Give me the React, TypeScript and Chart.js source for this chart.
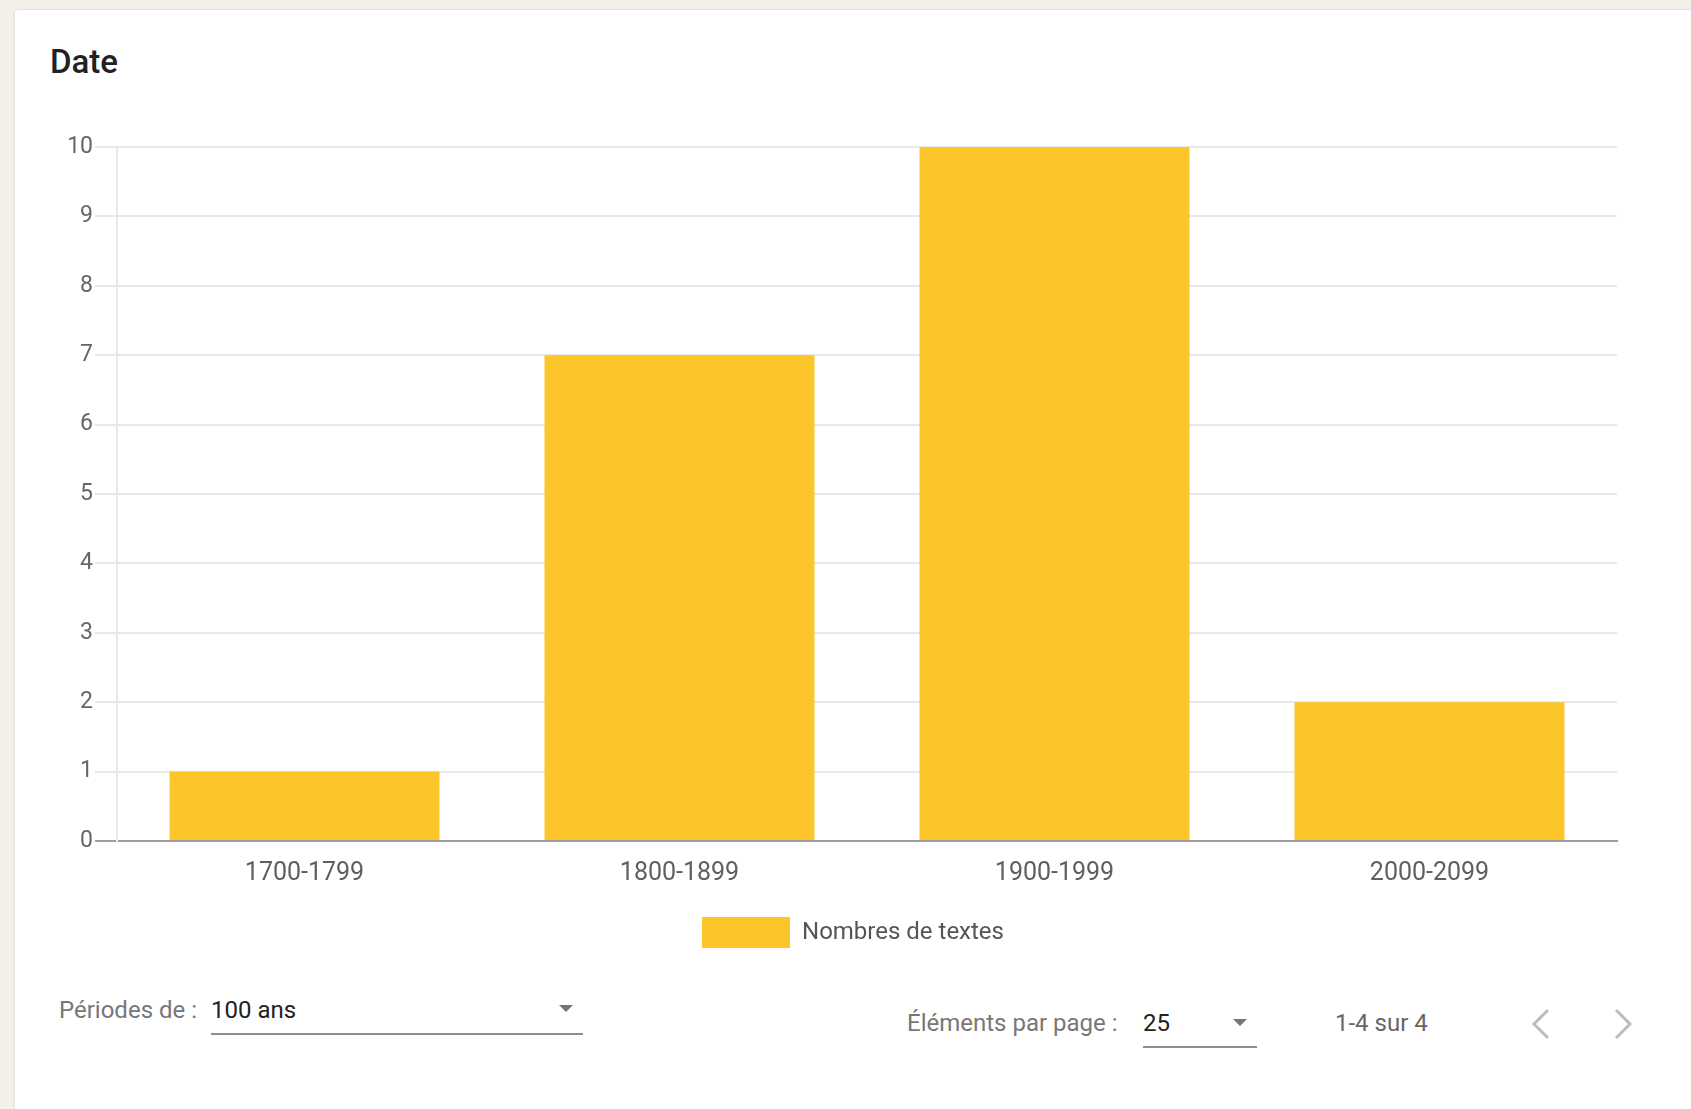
import React, { useEffect, useRef } from "react";
import { Chart, registerables } from "chart.js";

Chart.register(...registerables);

const categories = ["1700-1799", "1800-1899", "1900-1999", "2000-2099"];
const counts = [1, 7, 10, 2];
const seriesLabel = "Nombres de textes";
const yMin = 0;
const yMax = 10;
const yStep = 1;

const FONT = "Roboto, 'Noto Sans', Arial, sans-serif";

export default function App() {
  const canvasRef = useRef<HTMLCanvasElement | null>(null);

  useEffect(() => {
    const canvas = canvasRef.current;
    if (!canvas) return;
    const chart = new Chart(canvas, {
      type: "bar",
      data: {
        labels: categories,
        datasets: [
          {
            label: seriesLabel,
            data: counts,
            backgroundColor: "#fcc62b",
            hoverBackgroundColor: "#fcc62b",
            borderWidth: 0,
            yAxisID: "y",
          },
        ],
      },
      options: {
        animation: false,
        responsive: false,
        devicePixelRatio: 1,
        layout: { padding: { top: 39, left: 0, right: 0, bottom: 0 } },
        plugins: {
          legend: {
            position: "bottom",
            labels: {
              boxWidth: 88,
              boxHeight: 31,
              padding: 10,
              color: "#555555",
              font: { size: 24, family: FONT },
            },
          },
          tooltip: { enabled: false },
          title: { display: false },
        },
        scales: {
          x: {
            grid: { display: false, drawTicks: false },
            border: { display: true, color: "#9e9e9e", width: 2 },
            ticks: {
              padding: 18,
              maxRotation: 0,
              autoSkip: false,
              color: "#5f5f5f",
              font: { size: 25, family: FONT },
            },
          },
          y: {
            position: "left",
            min: yMin,
            max: yMax,
            ticks: {
              stepSize: yStep,
              padding: 2,
              color: "#666666",
              font: { size: 23, family: FONT },
            },
            grid: {
              color: (ctx: any) =>
                ctx.tick && ctx.tick.value === 0 ? "#9e9e9e" : "#e8e8e8",
              lineWidth: 2,
              tickLength: 22,
            },
            border: { display: true, color: "#e8e8e8", width: 2 },
            afterFit: (s: any) => {
              s.width = 102;
            },
          },
          spacer: {
            type: "linear",
            position: "right",
            display: true,
            grid: { display: false, drawTicks: false },
            border: { display: false },
            ticks: { display: false },
            afterFit: (s: any) => {
              s.width = 74;
            },
          },
        },
      } as any,
    });
    return () => chart.destroy();
  }, []);

  const textBase: React.CSSProperties = {
    position: "absolute",
    fontFamily: FONT,
    fontSize: 24,
    lineHeight: "28px",
    whiteSpace: "nowrap",
  };

  return (
    <div
      style={{
        position: "absolute",
        left: 0,
        top: 0,
        width: 1691,
        height: 1109,
        overflow: "hidden",
        background: "#f3f0ea",
      }}
    >
      <div
        style={{
          position: "absolute",
          left: 14,
          top: 9,
          width: 1720,
          height: 1140,
          background: "#ffffff",
          border: "1px solid #e4e4e4",
          borderRadius: 4,
          boxShadow: "0 1px 3px rgba(0,0,0,0.08)",
        }}
      />
      <div
        style={{
          position: "absolute",
          left: 50,
          top: 44,
          fontFamily: FONT,
          fontSize: 33,
          fontWeight: 500,
          lineHeight: "36px",
          color: "#202124",
        }}
      >
        Date
      </div>
      <canvas
        ref={canvasRef}
        width={1676}
        height={850}
        style={{ position: "absolute", left: 15, top: 108, width: 1676, height: 850 }}
      />
      {/* Périodes selector */}
      <div style={{ ...textBase, left: 59, top: 996, color: "#777777" }}>Périodes de :</div>
      <div style={{ ...textBase, left: 211, top: 996, color: "#222222" }}>100 ans</div>
      <div style={{ position: "absolute", left: 211, top: 1033, width: 372, height: 2, background: "#8e8e8e" }} />
      <div
        style={{
          position: "absolute",
          left: 559,
          top: 1005,
          width: 0,
          height: 0,
          borderLeft: "7px solid transparent",
          borderRight: "7px solid transparent",
          borderTop: "7px solid #757575",
        }}
      />
      {/* Paginator */}
      <div style={{ ...textBase, left: 907, top: 1009, color: "#777777" }}>Éléments par page :</div>
      <div style={{ ...textBase, left: 1143, top: 1009, color: "#222222" }}>25</div>
      <div style={{ position: "absolute", left: 1143, top: 1046, width: 114, height: 2, background: "#8e8e8e" }} />
      <div
        style={{
          position: "absolute",
          left: 1233,
          top: 1019,
          width: 0,
          height: 0,
          borderLeft: "7px solid transparent",
          borderRight: "7px solid transparent",
          borderTop: "7px solid #757575",
        }}
      />
      <div style={{ ...textBase, left: 1335, top: 1009, color: "#666666" }}>1-4 sur 4</div>
      <svg
        width={120}
        height={40}
        style={{ position: "absolute", left: 1525, top: 1004 }}
      >
        <polyline points="23,6 9,20 23,34" fill="none" stroke="#bdbdbd" strokeWidth={3} />
        <polyline points="91,6 105,20 91,34" fill="none" stroke="#bdbdbd" strokeWidth={3} />
      </svg>
    </div>
  );
}
